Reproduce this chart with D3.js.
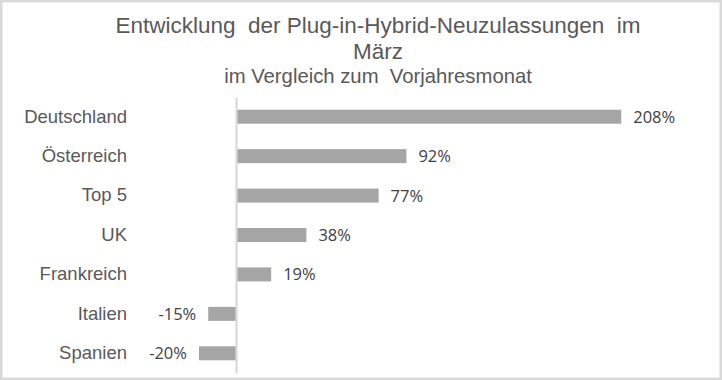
<!DOCTYPE html>
<html>
<head>
<meta charset="utf-8">
<script src="https://cdn.jsdelivr.net/npm/d3@7"></script>
<style>
	html, body { margin: 0; padding: 0; background: #fff; }
	svg { display: block; }
</style>
</head>
<body>
<div id="chart"></div>
<script>
let categories	= ['Deutschland', 'Österreich', 'Top 5', 'UK', 'Frankreich', 'Italien', 'Spanien'];
let values		= [208, 92, 77, 38, 19, -15, -20];
let titleLines	= ['Entwicklung  der Plug-in-Hybrid-Neuzulassungen  im', 'März'];
let subtitle	= 'im Vergleich zum  Vorjahresmonat';

let canvasWidth		= 722;
let canvasHeight	= 380;

let svg = d3.select('#chart').append('svg')
	.attr('width', canvasWidth)
	.attr('height', canvasHeight);

// chart area border
svg.append('rect')
	.attr('x', 1.25)
	.attr('y', 1.25)
	.attr('width', canvasWidth - 2.5)
	.attr('height', canvasHeight - 2.5)
	.attr('fill', '#fff')
	.attr('stroke', '#d9d9d9')
	.attr('stroke-width', 2.5);

// title
let title = svg.append('g').attr('id', 'title')
	.style('font-family', '"Liberation Sans", Arial, sans-serif')
	.attr('fill', '#595959')
	.attr('text-anchor', 'middle');

title.selectAll('text.line').data(titleLines).enter().append('text')
	.attr('class', 'line')
	.attr('x', 378)
	.attr('y', (d, i) => 33 + i * 25.5)
	.style('font-size', '22.5px')
	.style('white-space', 'pre')
	.text(d => d);

title.append('text')
	.attr('x', 378)
	.attr('y', 83)
	.style('font-size', '20.3px')
	.style('white-space', 'pre')
	.text(subtitle);

// scales
let x = d3.scaleLinear()
	.domain([-50, 250])
	.range([143.4, 699]);

let y = d3.scaleBand()
	.domain(categories)
	.range([97, 373])
	.paddingInner(0.645)
	.paddingOuter(0.3225);

// bars
let canvas = svg.append('g').attr('id', 'canvas');

canvas.selectAll('rect.bar').data(values).enter().append('rect')
	.attr('class', 'bar')
	.attr('x', d => x(Math.min(0, d)))
	.attr('y', (d, i) => y(categories[i]))
	.attr('width', d => Math.abs(x(d) - x(0)))
	.attr('height', y.bandwidth())
	.attr('fill', '#a5a5a5');

// category axis on the zero line
let axis = canvas.append('g')
	.attr('transform', 'translate(' + x(0) + ',0)')
	.call(d3.axisLeft(y).tickSize(0).tickSizeOuter(0).tickPadding(109));

axis.select('.domain')
	.attr('stroke', '#d9d9d9')
	.attr('stroke-width', 2.2);

axis.selectAll('.tick text')
	.attr('fill', '#595959')
	.style('font-family', '"Liberation Sans", Arial, sans-serif')
	.style('font-size', '18.5px');

// value labels
canvas.selectAll('text.value').data(values).enter().append('text')
	.attr('class', 'value')
	.attr('x', d => d >= 0 ? x(d) + 12 : x(d) - 12)
	.attr('y', (d, i) => y(categories[i]) + y.bandwidth() / 2)
	.attr('dy', '0.36em')
	.attr('text-anchor', d => d >= 0 ? 'start' : 'end')
	.attr('fill', '#404040')
	.style('font-family', '"Open Sans", sans-serif')
	.style('font-size', '16.5px')
	.text(d => d + '%');
</script>
</body>
</html>
